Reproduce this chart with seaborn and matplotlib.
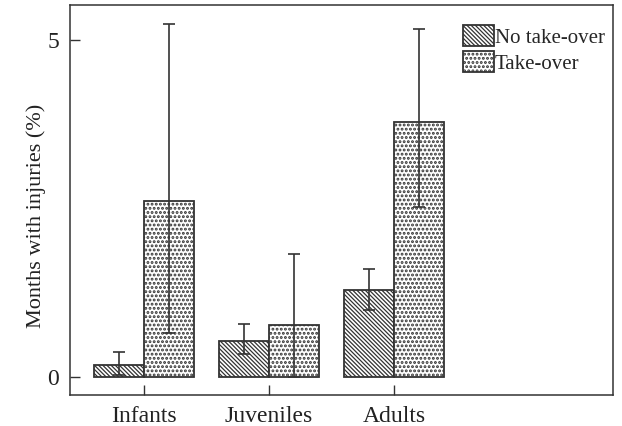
import matplotlib
matplotlib.use("Agg")
import matplotlib.pyplot as plt
import seaborn as sns
import pandas as pd
import numpy as np

# values (percent of months with injuries)
ages = ["Infants", "Juveniles", "Adults"]
conditions = ["No take-over", "Take-over"]
no_takeover = [0.18, 0.53, 1.29]
takeover = [2.61, 0.77, 3.78]
no_takeover_lo = [0.03, 0.34, 0.99]
no_takeover_hi = [0.36, 0.79, 1.60]
takeover_lo = [0.65, 0.0, 2.52]
takeover_hi = [5.24, 1.82, 5.16]

sns.set_theme(style="ticks")
plt.rcParams["font.family"] = ["Liberation Serif", "DejaVu Serif"]
plt.rcParams["hatch.color"] = "#333333"
plt.rcParams["hatch.linewidth"] = 1.0

df = pd.DataFrame({
    "age": ages * 2,
    "condition": [conditions[0]] * 3 + [conditions[1]] * 3,
    "value": no_takeover + takeover,
})

fig = plt.figure(figsize=(6.22, 4.26), dpi=100)
ax = fig.add_axes([0.1125, 0.073, 0.873, 0.915])

sns.barplot(data=df, x="age", y="value", hue="condition", order=ages,
            hue_order=conditions, errorbar=None, width=0.8,
            palette=["white", "white"], edgecolor="#333333", linewidth=1.3,
            saturation=1, ax=ax)

hatches = {conditions[0]: "\\" * 8, conditions[1]: "...."}
hatch_lw = {conditions[0]: 0.9, conditions[1]: 1.4}


def style_patch(p, cond):
    p.set_hatch(hatches[cond])
    if hasattr(p, "set_hatch_linewidth"):
        p.set_hatch_linewidth(hatch_lw[cond])


vals = {conditions[0]: (no_takeover, no_takeover_lo, no_takeover_hi),
        conditions[1]: (takeover, takeover_lo, takeover_hi)}
for cond, cont in zip(conditions, ax.containers):
    mean, lo, hi = (np.array(v) for v in vals[cond])
    xs = []
    for bar in cont:
        style_patch(bar, cond)
        xs.append(bar.get_x() + bar.get_width() / 2)
    ax.errorbar(xs, mean, yerr=[mean - lo, hi - mean], fmt="none",
                ecolor="#333333", elinewidth=1.2, capsize=4.5, capthick=1.2)

ax.set_xlim(-0.592, 3.75)
ax.set_ylim(-0.27, 5.52)
ax.set_yticks([0, 5])
ax.set_xlabel("")
ax.set_ylabel("Months with injuries (%)", fontsize=16, color="#222222")
ax.yaxis.set_label_coords(-0.045, 0.46)
ax.tick_params(direction="in", length=7, width=1, labelsize=17,
               colors="#333333", labelcolor="#222222", pad=8)
for s in ax.spines.values():
    s.set_visible(True)
    s.set_color("#333333")
    s.set_linewidth(1.1)

leg = ax.legend(loc="upper right", bbox_to_anchor=(1.0, 0.97), frameon=False,
                fontsize=15, handlelength=1.45, handleheight=1.2,
                handletextpad=0.05, labelspacing=0.15, borderaxespad=0)
for h, cond in zip(leg.legend_handles, conditions):
    style_patch(h, cond)
    h.set_edgecolor("#333333")
    h.set_facecolor("white")

fig.savefig("out.png", dpi=100)
